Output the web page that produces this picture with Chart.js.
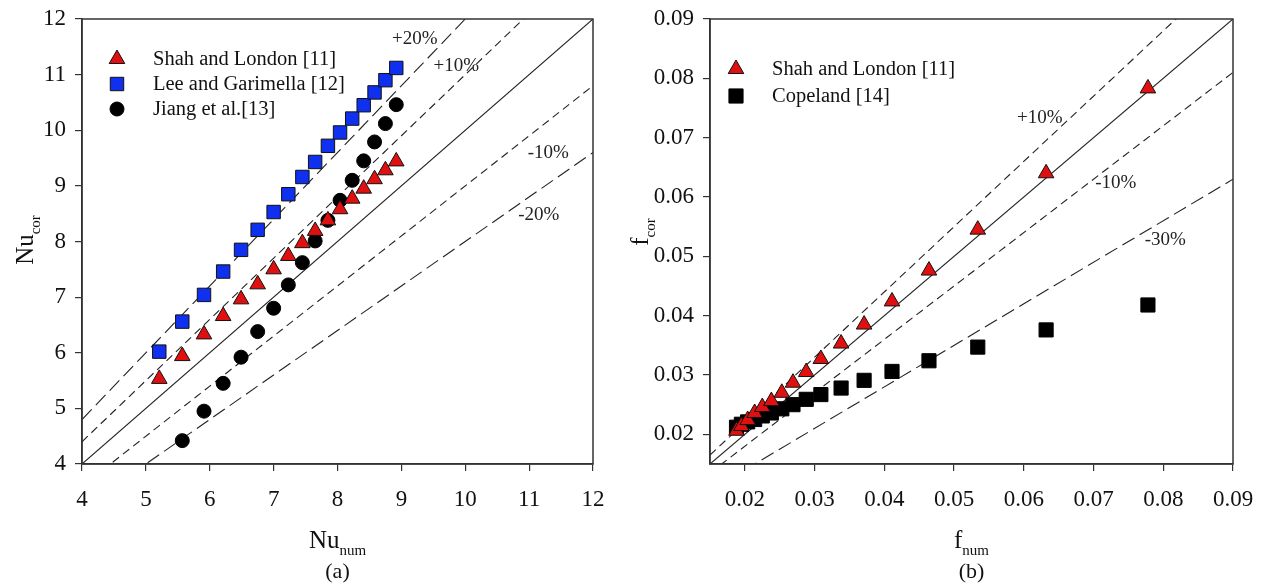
<!DOCTYPE html>
<html>
<head>
<meta charset="utf-8">
<script src="https://cdn.jsdelivr.net/npm/chart.js@4.4.0/dist/chart.umd.min.js"></script>
<style>
    body { margin: 0; background: #fff; }
    #wrapA { position: absolute; left: 0; top: 0; width: 620px; height: 586px; }
    #wrapB { position: absolute; left: 620px; top: 0; width: 641px; height: 586px; }
</style>
</head>
<body>
<div id="wrapA"><canvas id="chartA" width="620" height="586"></canvas></div>
<div id="wrapB"><canvas id="chartB" width="641" height="586"></canvas></div>
<script>
// (a) Nu
const nuNum = [5.21, 5.57, 5.91, 6.21, 6.49, 6.75, 7.0, 7.23, 7.45, 7.65, 7.85, 8.04, 8.23, 8.41, 8.58, 8.75, 8.92];
const nuShah = [5.53, 5.94, 6.33, 6.66, 6.96, 7.23, 7.50, 7.74, 7.97, 8.19, 8.38, 8.58, 8.77, 8.95, 9.12, 9.28, 9.44];
const nuLee = [6.02, 6.56, 7.04, 7.46, 7.85, 8.21, 8.53, 8.85, 9.16, 9.43, 9.72, 9.96, 10.21, 10.45, 10.68, 10.90, 11.12];
const nuJiangNum = [5.57, 5.91, 6.21, 6.49, 6.75, 7.0, 7.23, 7.45, 7.65, 7.85, 8.04, 8.23, 8.41, 8.58, 8.75, 8.92];
const nuJiang = [4.42, 4.95, 5.45, 5.92, 6.38, 6.80, 7.22, 7.62, 8.01, 8.38, 8.74, 9.10, 9.45, 9.79, 10.12, 10.46];
const nuTicks = [4, 5, 6, 7, 8, 9, 10, 11, 12];
const nuBands = [1.2, 1.1, 1.0, 0.9, 0.8];
const nuBandLabels = ['+20%', '+10%', '', '-10%', '-20%'];
const nuBandLabelPos = [[9.21, 11.64], [9.86, 11.16], null, [11.30, 9.59], [11.15, 8.48]];

// (b) f
const fNum = [0.0188, 0.0195, 0.0204, 0.0214, 0.0225, 0.0238, 0.0253, 0.0269, 0.0288, 0.0309, 0.0338, 0.0371, 0.0411, 0.0464, 0.0534, 0.0632, 0.0778];
const fShah = [0.0206, 0.0214, 0.0224, 0.0236, 0.0246, 0.0256, 0.0270, 0.0287, 0.0305, 0.0327, 0.0353, 0.0385, 0.0424, 0.0476, 0.0545, 0.0640, 0.0783];
const fCopeland = [0.0212, 0.0217, 0.0221, 0.0225, 0.0231, 0.0236, 0.0243, 0.0250, 0.0259, 0.0267, 0.0278, 0.0291, 0.0306, 0.0324, 0.0347, 0.0376, 0.0418];
const fTicks = [0.02, 0.03, 0.04, 0.05, 0.06, 0.07, 0.08, 0.09];
const fBands = [1.1, 1.0, 0.9, 0.7];
const fBandLabels = ['+10%', '', '-10%', '-30%'];
const fBandLabelPos = [[0.0623, 0.0733], null, [0.0732, 0.0624], [0.0803, 0.0528]];

const FONT = "'Liberation Serif', 'Times New Roman', serif";
const AXIS = '#333';

function pts(xs, ys) {
    return xs.map((x, i) => ({ x: x, y: ys[i] }));
}

function bandDash(f) {
    if (f === 1.0) return [];
    if (Math.abs(f - 1) > 0.15) return [14, 6];
    return [8, 5];
}

function bandSets(bands, lo, hi) {
    return bands.map(f => ({
        type: 'line',
        data: [{ x: lo, y: lo * f }, { x: hi, y: hi * f }],
        borderColor: '#222',
        borderWidth: 1.1,
        borderDash: bandDash(f),
        pointRadius: 0,
        fill: false
    }));
}

function drawSub(ctx, main, sub, cx, cy) {
    ctx.font = '25px ' + FONT;
    const w1 = ctx.measureText(main).width;
    ctx.font = '15px ' + FONT;
    const w2 = ctx.measureText(sub).width;
    const x0 = cx - (w1 + w2) / 2;
    ctx.fillStyle = '#111';
    ctx.textBaseline = 'alphabetic';
    ctx.textAlign = 'left';
    ctx.font = '25px ' + FONT;
    ctx.fillText(main, x0, cy + 8);
    ctx.font = '15px ' + FONT;
    ctx.fillText(sub, x0 + w1, cy + 15);
}

function makeDecor(opts) {
    return {
        id: 'decor',
        afterDatasetsDraw(chart) {
            const ctx = chart.ctx;
            const a = chart.chartArea;
            const xs = chart.scales.x, ys = chart.scales.y;
            ctx.save();
            // frame
            ctx.strokeStyle = AXIS;
            ctx.lineWidth = 1.5;
            ctx.strokeRect(a.left, a.top, a.right - a.left, a.bottom - a.top);

            // band labels
            ctx.fillStyle = '#222';
            ctx.font = '19px ' + FONT;
            ctx.textAlign = 'center';
            ctx.textBaseline = 'middle';
            opts.bandLabels.forEach((t, i) => {
                const p = opts.bandPos[i];
                if (!p) return;
                ctx.fillText(t, xs.getPixelForValue(p[0]), ys.getPixelForValue(p[1]));
            });

            // legend
            opts.legend.forEach((item, i) => {
                const ds = chart.data.datasets[item.ds];
                const y = opts.legendY + i * opts.legendStep;
                ctx.fillStyle = ds.backgroundColor;
                ctx.strokeStyle = ds.borderColor;
                ctx.lineWidth = ds.borderWidth;
                Chart.helpers.drawPoint(ctx, {
                    pointStyle: ds.pointStyle,
                    radius: ds.pointRadius,
                    rotation: 0,
                    borderWidth: ds.borderWidth
                }, opts.legendX, y);
                ctx.fillStyle = '#111';
                ctx.font = '20.5px ' + FONT;
                ctx.textAlign = 'left';
                ctx.textBaseline = 'middle';
                ctx.fillText(item.label, opts.legendX + 36, y + 1);
            });

            // axis titles
            const cx = (a.left + a.right) / 2;
            drawSub(ctx, opts.xMain, 'num', cx, 540);
            ctx.fillStyle = '#111';
            ctx.font = '22px ' + FONT;
            ctx.textAlign = 'center';
            ctx.textBaseline = 'middle';
            ctx.fillText(opts.caption, cx, 572);

            ctx.save();
            ctx.translate(opts.yTitleX, opts.yTitleY);
            ctx.rotate(-Math.PI / 2);
            drawSub(ctx, opts.yMain, 'cor', 0, 0);
            ctx.restore();

            ctx.restore();
        }
    };
}

function axisOpts(min, max, ticks, fmt, fitKey, fitVal, pad) {
    return {
        type: 'linear',
        min: min,
        max: max,
        afterBuildTicks: s => { s.ticks = ticks.map(v => ({ value: v })); },
        afterFit: s => {
            s[fitKey] = fitVal;
            // keep the plot box where the layout padding puts it
            s.paddingLeft = 0;
            s.paddingRight = 0;
            s.paddingTop = 0;
            s.paddingBottom = 0;
        },
        grid: { display: true, drawOnChartArea: false, drawTicks: true, tickLength: 7, color: AXIS, lineWidth: 1.2 },
        border: { display: true, color: AXIS, width: 1.5 },
        ticks: {
            color: '#111',
            padding: pad,
            autoSkip: false,
            maxRotation: 0,
            font: { family: FONT, size: 23 },
            callback: fmt
        }
    };
}

// (a)
new Chart(document.getElementById('chartA'), {
    type: 'scatter',
    data: {
        datasets: [
            { data: pts(nuNum, nuShah), pointStyle: 'triangle', pointRadius: 9, backgroundColor: '#e01010', borderColor: '#111', borderWidth: 1 },
            { data: pts(nuNum, nuLee), pointStyle: 'rect', pointRadius: 9.5, backgroundColor: '#1030f0', borderColor: '#111', borderWidth: 1 },
            { data: pts(nuJiangNum, nuJiang), pointStyle: 'circle', pointRadius: 7, backgroundColor: '#000', borderColor: '#000', borderWidth: 1 }
        ].concat(bandSets(nuBands, 4, 12))
    },
    options: {
        responsive: false,
        animation: false,
        layout: { padding: { top: 19, right: 27, left: 0, bottom: 0 } },
        plugins: { legend: { display: false }, tooltip: { enabled: false } },
        scales: {
            x: axisOpts(4, 12, nuTicks, v => String(v), 'height', 122, 15),
            y: axisOpts(4, 12, nuTicks, v => String(v), 'width', 82, 9)
        }
    },
    plugins: [makeDecor({
        bandLabels: nuBandLabels,
        bandPos: nuBandLabelPos,
        legend: [
            { ds: 0, label: 'Shah and London [11]' },
            { ds: 1, label: 'Lee and Garimella [12]' },
            { ds: 2, label: 'Jiang et al.[13]' }
        ],
        legendX: 117, legendY: 59, legendStep: 25,
        xMain: 'Nu', yMain: 'Nu', caption: '(a)',
        yTitleX: 25, yTitleY: 240
    })]
});

// (b)
new Chart(document.getElementById('chartB'), {
    type: 'scatter',
    data: {
        datasets: [
            { data: pts(fNum, fShah), pointStyle: 'triangle', pointRadius: 9, backgroundColor: '#e01010', borderColor: '#111', borderWidth: 1 },
            { data: pts(fNum, fCopeland), pointStyle: 'rect', pointRadius: 10, backgroundColor: '#000', borderColor: '#000', borderWidth: 1 }
        ].concat(bandSets(fBands, 0.015, 0.09))
    },
    options: {
        responsive: false,
        animation: false,
        layout: { padding: { top: 19, right: 28, left: 0, bottom: 0 } },
        plugins: { legend: { display: false }, tooltip: { enabled: false } },
        scales: {
            x: axisOpts(0.015, 0.09, fTicks, v => v.toFixed(2), 'height', 122, 15),
            y: axisOpts(0.015, 0.09, fTicks, v => v.toFixed(2), 'width', 90, 9)
        }
    },
    plugins: [makeDecor({
        bandLabels: fBandLabels,
        bandPos: fBandLabelPos,
        legend: [
            { ds: 0, label: 'Shah and London [11]' },
            { ds: 1, label: 'Copeland [14]' }
        ],
        legendX: 116, legendY: 69, legendStep: 27,
        xMain: 'f', yMain: 'f', caption: '(b)',
        yTitleX: 20, yTitleY: 232
    })]
});
</script>
</body>
</html>
